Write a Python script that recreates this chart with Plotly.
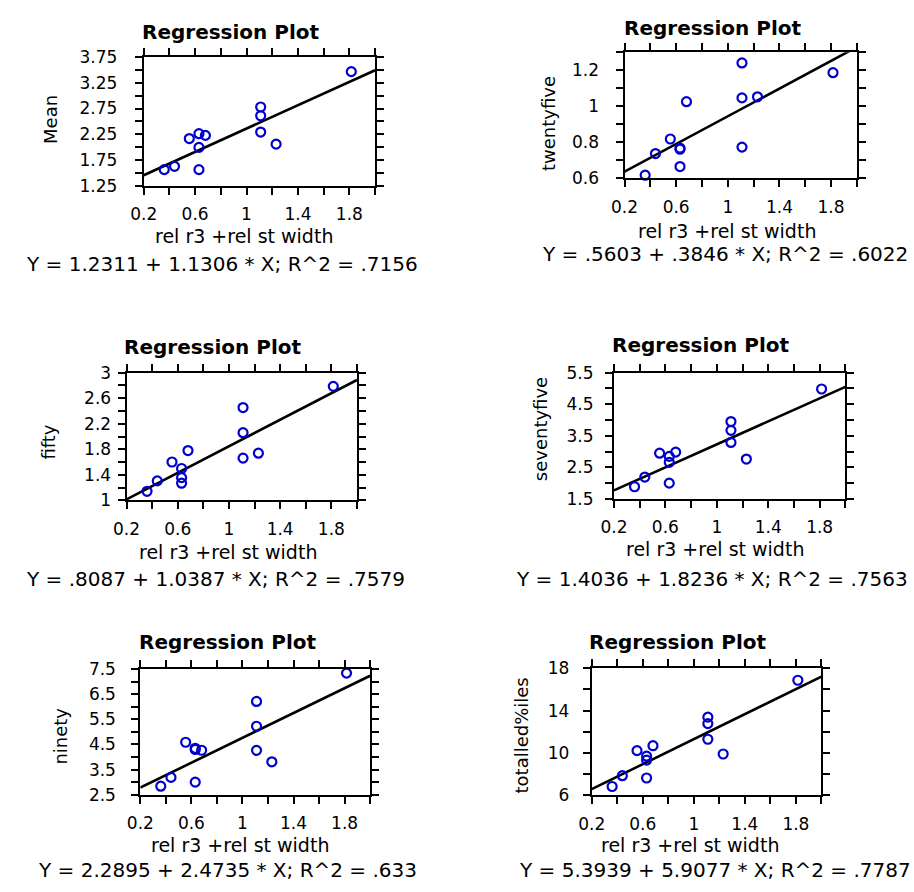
import plotly.graph_objects as go

# ---------------- data ----------------
x_vals = [0.36, 0.44, 0.555, 0.63, 0.63, 0.63, 0.68, 1.11, 1.11, 1.11, 1.23, 1.815]

mean_y = [1.566, 1.63, 2.168, 2.263, 1.997, 1.566, 2.23, 2.78, 2.61, 2.294, 2.06, 3.465]
twentyfive_y = [0.618, 0.738, 0.819, 0.768, 0.762, 0.666, 1.026, 1.241, 1.047, 0.774, 1.053, 1.187]
fifty_y = [1.143, 1.306, 1.602, 1.50, 1.357, 1.27, 1.781, 2.454, 2.061, 1.663, 1.74, 2.786]
seventyfive_y = [1.882, 2.19, 2.947, 2.845, 2.658, 1.996, 2.98, 3.95, 3.67, 3.288, 2.761, 4.983]
ninety_y = [2.84, 3.19, 4.59, 4.35, 4.30, 3.0, 4.27, 6.214, 5.227, 4.266, 3.81, 7.344]
totalled_y = [6.83, 7.85, 10.215, 9.69, 9.32, 7.63, 10.68, 13.38, 12.77, 11.29, 9.9, 16.86]

y_names = ["Mean", "twentyfive", "fifty", "seventyfive", "ninety", "totalled%iles"]
intercepts = [1.2311, 0.5603, 0.8087, 1.4036, 2.2895, 5.3939]
slopes = [1.1306, 0.3846, 1.0387, 1.8236, 2.4735, 5.9077]
r_squared = [0.7156, 0.6022, 0.7579, 0.7563, 0.633, 0.7787]

x_title = "rel r3 +rel st width"
plot_title = "Regression Plot"

x_range = [0.2, 2.0]
x_tickvals = [0.2, 0.4, 0.6, 0.8, 1.0, 1.2, 1.4, 1.6, 1.8, 2.0]
x_ticktext = ["0.2", "", "0.6", "", "1", "", "1.4", "", "1.8", ""]

y_ranges = [[1.25, 3.75], [0.6, 1.3], [1.0, 3.0], [1.5, 5.5], [2.5, 7.5], [6, 18]]
y_tickvals = [
    [1.25, 1.5, 1.75, 2.0, 2.25, 2.5, 2.75, 3.0, 3.25, 3.5, 3.75],
    [0.6, 0.7, 0.8, 0.9, 1.0, 1.1, 1.2, 1.3],
    [1.0, 1.2, 1.4, 1.6, 1.8, 2.0, 2.2, 2.4, 2.6, 2.8, 3.0],
    [1.5, 2.0, 2.5, 3.0, 3.5, 4.0, 4.5, 5.0, 5.5],
    [2.5, 3.0, 3.5, 4.0, 4.5, 5.0, 5.5, 6.0, 6.5, 7.0, 7.5],
    [6, 8, 10, 12, 14, 16, 18],
]
y_ticktext = [
    ["1.25", "", "1.75", "", "2.25", "", "2.75", "", "3.25", "", "3.75"],
    ["0.6", "", "0.8", "", "1", "", "1.2", ""],
    ["1", "", "1.4", "", "1.8", "", "2.2", "", "2.6", "", "3"],
    ["1.5", "", "2.5", "", "3.5", "", "4.5", "", "5.5"],
    ["2.5", "", "3.5", "", "4.5", "", "5.5", "", "6.5", "", "7.5"],
    ["6", "", "10", "", "14", "", "18"],
]

series_y = [mean_y, twentyfive_y, fifty_y, seventyfive_y, ninety_y, totalled_y]

# ---------------- layout geometry (pixels) ----------------
W, H = 914, 892
# plot frame: left, right, top, bottom
frames = [
    (131.7, 366.7, 48.0, 180.0),
    (620.0, 856.0, 43.3, 172.3),
    (114.3, 348.3, 371.0, 501.7),
    (609.3, 844.3, 371.0, 500.0),
    (128.3, 361.7, 674.3, 802.7),
    (586.7, 820.0, 673.3, 803.3),
]
title_pos = [(220, 22), (710, 18), (202, 345), (698, 343), (217, 647), (674, 647)]
xtitle_pos = [(234, 231), (724, 226), (217, 554), (712, 551), (230, 854), (687, 854)]
ytitle_pos = [(37, 112), (543, 116), (35, 442), (535, 429), (47, 743), (515, 742)]
# (x, y, anchor)
eq_pos = [(10, 260, "left"), (910, 250, "right"), (10, 582, "left"),
          (910, 582, "right"), (22, 880, "left"), (913, 880, "right")]
y_standoff = [14, 13, 3, 8, 12, 10]

FONT = "DejaVu Sans"
BLUE = "#0000CC"


def px(x):
    return x / W


def py(y):
    return 1 - y / H


def fmt(v):
    s = format(v, "g")
    if s.startswith("0."):
        s = s[1:]
    return s


fig = go.Figure()
annotations = []
layout_axes = {}

for i in range(6):
    n = "" if i == 0 else str(i + 1)
    xa, ya = "x" + n, "y" + n
    ys = series_y[i]

    # regression line from coefficients
    lx = x_range
    ly = [intercepts[i] + slopes[i] * v for v in lx]
    fig.add_trace(go.Scatter(
        x=lx, y=ly, mode="lines", xaxis=xa, yaxis=ya,
        line=dict(color="black", width=2.6), showlegend=False, hoverinfo="skip",
    ))
    fig.add_trace(go.Scatter(
        x=x_vals, y=ys, mode="markers", xaxis=xa, yaxis=ya, cliponaxis=False,
        marker=dict(symbol="circle-open", size=9, color=BLUE, line=dict(color=BLUE, width=2.2)),
        showlegend=False, name=y_names[i],
    ))

    l, r, t, b = frames[i]
    common = dict(
        showline=True, linecolor="black", linewidth=2, mirror="allticks",
        ticks="outside", ticklen=7, tickwidth=2, tickcolor="black",
        showgrid=False, zeroline=False,
        tickfont=dict(family=FONT, size=17, color="black"),
    )
    layout_axes["xaxis" + n] = dict(
        domain=[px(l), px(r)], anchor=ya, range=x_range,
        tickmode="array", tickvals=x_tickvals, ticktext=x_ticktext,
        ticklabelstandoff=5, **common,
    )
    layout_axes["yaxis" + n] = dict(
        domain=[py(b), py(t)], anchor=xa, range=y_ranges[i],
        tickmode="array", tickvals=y_tickvals[i], ticktext=y_ticktext[i],
        ticklabelstandoff=y_standoff[i], **common,
    )

    tx, ty = title_pos[i]
    annotations.append(dict(
        text="<b>" + plot_title + "</b>", x=px(tx), y=py(ty), xref="paper", yref="paper",
        showarrow=False, xanchor="center", yanchor="middle",
        font=dict(family=FONT, size=20, color="black"),
    ))
    ax_, ay_ = xtitle_pos[i]
    annotations.append(dict(
        text=x_title, x=px(ax_), y=py(ay_), xref="paper", yref="paper",
        showarrow=False, xanchor="center", yanchor="middle",
        font=dict(family=FONT, size=19, color="black"),
    ))
    yx, yy = ytitle_pos[i]
    annotations.append(dict(
        text=y_names[i], x=px(yx), y=py(yy), xref="paper", yref="paper",
        showarrow=False, xanchor="center", yanchor="middle", textangle=-90,
        font=dict(family=FONT, size=18, color="black"),
    ))
    ex, ey, anc = eq_pos[i]
    eq = "Y = %s + %s * X; R^2 = %s" % (fmt(intercepts[i]), fmt(slopes[i]), fmt(r_squared[i]))
    annotations.append(dict(
        text=eq, x=px(ex), y=py(ey), xref="paper", yref="paper",
        showarrow=False, xanchor=anc, yanchor="middle",
        font=dict(family=FONT, size=20, color="black"),
    ))

fig.update_layout(
    width=W, height=H, margin=dict(l=0, r=0, t=0, b=0),
    paper_bgcolor="white", plot_bgcolor="white",
    annotations=annotations, showlegend=False,
    **layout_axes,
)

fig.write_html("out.html", post_script="document.body.style.margin='0';")
